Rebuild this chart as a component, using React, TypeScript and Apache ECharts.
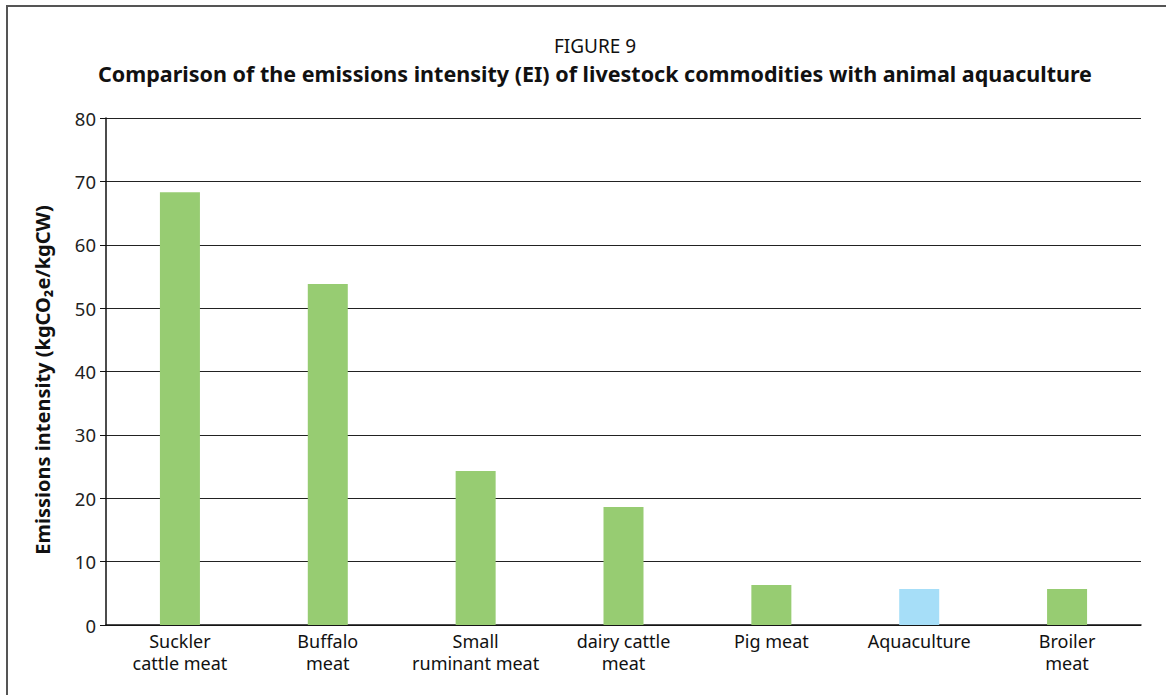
import React, { useEffect, useRef } from "react";
import * as echarts from "echarts";

const categories = [
  "Suckler\ncattle meat",
  "Buffalo\nmeat",
  "Small\nruminant meat",
  "dairy cattle\nmeat",
  "Pig meat",
  "Aquaculture",
  "Broiler\nmeat",
];
const values = [68.3, 53.8, 24.3, 18.6, 6.3, 5.7, 5.7];
const barColors = ["#97cc72", "#97cc72", "#97cc72", "#97cc72", "#97cc72", "#a6def8", "#97cc72"];
const yTicks = { min: 0, max: 80, interval: 10 };
const yAxisTitle = "Emissions intensity (kgCO₂e/kgCW)";

const FONT = "Noto Sans";

export default function App() {
  const ref = useRef<HTMLDivElement>(null);
  useEffect(() => {
    if (!ref.current) return;
    const chart = echarts.init(ref.current, undefined, { renderer: "svg" });
    chart.setOption({
      animation: false,
      backgroundColor: "#ffffff",
      textStyle: { fontFamily: FONT },
      title: [
        {
          text: "FIGURE 9",
          left: 590,
          top: 31,
          textAlign: "center",
          textStyle: { fontFamily: FONT, fontWeight: "normal", fontSize: 19, color: "#111" },
        },
        {
          text: "Comparison of the emissions intensity (EI) of livestock commodities with animal aquaculture",
          left: 590,
          top: 57,
          textAlign: "center",
          textStyle: { fontFamily: FONT, fontWeight: "bold", fontSize: 21.5, color: "#111" },
        },
      ],
      graphic: [
        {
          type: "rect",
          shape: { x: 7, y: 6, width: 1300, height: 900 },
          style: { fill: "none", stroke: "#555", lineWidth: 2 },
          silent: true,
        },
        {
          type: "text",
          x: 42,
          y: 380,
          rotation: Math.PI / 2,
          style: {
            text: yAxisTitle,
            fontFamily: FONT,
            fontWeight: "bold",
            fontSize: 20,
            fill: "#111",
            align: "center",
            verticalAlign: "middle",
          },
          silent: true,
        },
      ],
      grid: { left: 106, right: 25, top: 118, bottom: 70 },
      xAxis: {
        type: "category",
        data: categories,
        axisLine: { show: true, lineStyle: { color: "#111", width: 1.5 } },
        axisTick: { show: false },
        axisLabel: {
          fontFamily: FONT,
          fontSize: 18,
          color: "#111",
          lineHeight: 22,
          margin: 5,
          interval: 0,
        },
      },
      yAxis: {
        type: "value",
        min: yTicks.min,
        max: yTicks.max,
        interval: yTicks.interval,
        axisLine: { show: true, lineStyle: { color: "#111", width: 1.5 } },
        axisTick: { show: true, length: 6, lineStyle: { color: "#111" } },
        axisLabel: { fontFamily: FONT, fontSize: 18.5, color: "#222", margin: 10 },
        splitLine: { show: true, lineStyle: { color: "#222", width: 1 } },
      },
      series: [
        {
          type: "bar",
          data: values.map((v, i) => ({ value: v, itemStyle: { color: barColors[i] } })),
          barWidth: 40,
        },
      ],
    });
    return () => chart.dispose();
  }, []);
  return (
    <div
      ref={ref}
      style={{ position: "fixed", left: 0, top: 0, width: 1166, height: 695 }}
    />
  );
}
